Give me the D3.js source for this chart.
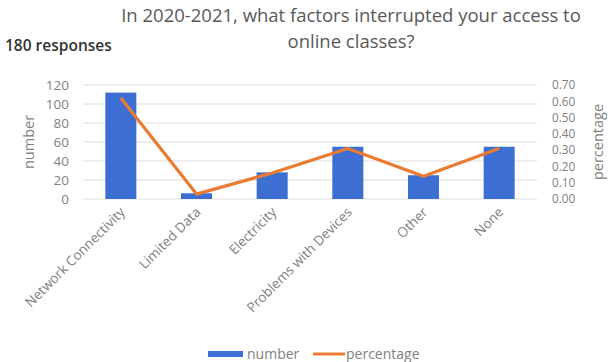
<!DOCTYPE html>
<html>
<head>
<meta charset="utf-8">
<script src="https://cdn.jsdelivr.net/npm/d3@7"></script>
<style>
  body { margin: 0; background: #fff; }
  text { font-family: "Open Sans", "Liberation Sans", sans-serif; }
</style>
</head>
<body>
<div id="chart"></div>
<script>
const categories = ["Network Connectivity", "Limited Data", "Electricity", "Problems with Devices", "Other", "None"];
const counts = [112, 6, 28, 55, 25, 55];
const percents = [0.62, 0.03, 0.16, 0.31, 0.14, 0.31];
const leftTicks = [0, 20, 40, 60, 80, 100, 120];
const rightTicks = [0, 0.1, 0.2, 0.3, 0.4, 0.5, 0.6, 0.7];

const W = 608, H = 362;
const plot = { left: 83, right: 537, top: 85, bottom: 199 };
const grey = "#7f7f7f";

const svg = d3.select("#chart").append("svg")
    .attr("width", W)
    .attr("height", H);

const x = d3.scaleBand()
    .domain(categories)
    .range([plot.left, plot.right])
    .paddingInner(0.59)
    .paddingOuter(0.295);

const y = d3.scaleLinear().domain([0, 120]).range([plot.bottom, plot.top]);
const y2 = d3.scaleLinear().domain([0, 0.7]).range([plot.bottom, plot.top]);

// gridlines
svg.append("g")
    .selectAll("line")
    .data(leftTicks)
    .join("line")
    .attr("x1", plot.left)
    .attr("x2", plot.right)
    .attr("y1", d => y(d))
    .attr("y2", d => y(d))
    .attr("stroke", "#dedede")
    .attr("stroke-width", 1);

// left axis
const leftAxis = svg.append("g")
    .attr("transform", `translate(${plot.left - 14},0)`)
    .call(d3.axisLeft(y).tickValues(leftTicks).tickSize(0).tickPadding(0));
leftAxis.select(".domain").remove();
leftAxis.selectAll("text").attr("fill", grey).style("font-size", "13.5px");

// right axis - ticks are closer together, so a bit smaller text
const rightAxis = svg.append("g")
    .attr("transform", `translate(${plot.right + 15},0)`)
    .call(d3.axisRight(y2).tickValues(rightTicks).tickFormat(d3.format(".2f")).tickSize(0).tickPadding(0));
rightAxis.select(".domain").remove();
rightAxis.selectAll("text").attr("fill", grey).style("font-size", "11.8px");

// bars
svg.append("g")
    .selectAll("rect")
    .data(counts)
    .join("rect")
    .attr("x", (d, i) => x(categories[i]))
    .attr("width", x.bandwidth())
    .attr("y", d => y(d))
    .attr("height", d => plot.bottom - y(d))
    .attr("fill", "#3d6fd2");

// percentage line
const line = d3.line()
    .x((d, i) => x(categories[i]) + x.bandwidth() / 2)
    .y(d => y2(d));
svg.append("path")
    .datum(percents)
    .attr("d", line)
    .attr("fill", "none")
    .attr("stroke", "#ea7b33")
    .attr("stroke-width", 3.2)
    .attr("stroke-linejoin", "round");

// x labels
svg.append("g")
    .selectAll("text")
    .data(categories)
    .join("text")
    .attr("transform", d => `translate(${x(d) + x.bandwidth() / 2 + 5},${plot.bottom + 14}) rotate(-45)`)
    .attr("text-anchor", "end")
    .attr("fill", grey)
    .style("font-size", "13.5px")
    .text(d => d);

// axis titles
svg.append("text")
    .attr("transform", `translate(34,142) rotate(-90)`)
    .attr("text-anchor", "middle")
    .attr("fill", grey)
    .style("font-size", "14.5px")
    .text("number");
svg.append("text")
    .attr("transform", `translate(603,142) rotate(-90)`)
    .attr("text-anchor", "middle")
    .attr("fill", grey)
    .style("font-size", "14.5px")
    .text("percentage");

// titles
svg.append("text")
    .attr("x", 351).attr("y", 22)
    .attr("text-anchor", "middle")
    .attr("fill", "#595959")
    .style("font-size", "18.5px")
    .text("In 2020-2021, what factors interrupted your access to");
svg.append("text")
    .attr("x", 351).attr("y", 48)
    .attr("text-anchor", "middle")
    .attr("fill", "#595959")
    .style("font-size", "18.5px")
    .text("online classes?");
svg.append("text")
    .attr("x", 5).attr("y", 51)
    .attr("fill", "#333")
    .style("font-size", "15.5px")
    .style("font-weight", "600")
    .text("180 responses");

// legend
const legend = svg.append("g").attr("transform", "translate(0,354)");
legend.append("rect")
    .attr("x", 208).attr("y", -3).attr("width", 35).attr("height", 6)
    .attr("fill", "#3d6fd2");
legend.append("text")
    .attr("x", 247).attr("y", 5)
    .attr("fill", grey)
    .style("font-size", "14px")
    .text("number");
legend.append("line")
    .attr("x1", 313).attr("x2", 345).attr("y1", 0).attr("y2", 0)
    .attr("stroke", "#ea7b33").attr("stroke-width", 3);
legend.append("text")
    .attr("x", 346).attr("y", 5)
    .attr("fill", grey)
    .style("font-size", "14px")
    .text("percentage");
</script>
</body>
</html>
